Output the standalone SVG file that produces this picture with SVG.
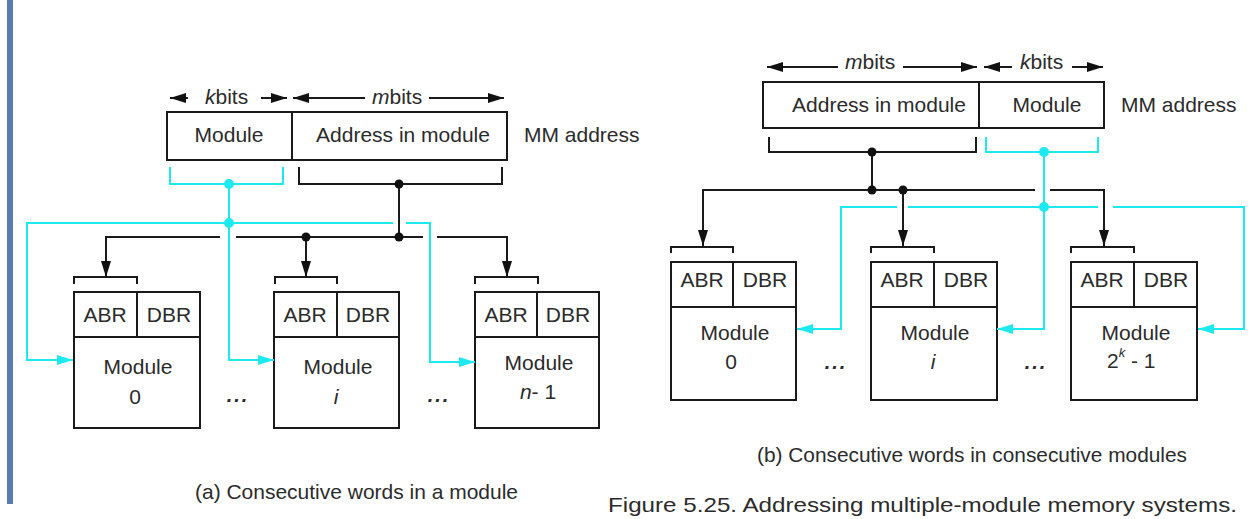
<svg xmlns="http://www.w3.org/2000/svg" width="1250" height="519" viewBox="0 0 1250 519">
  <style>
    text { font-family: "Liberation Sans", Arial, sans-serif; fill: #2b2b2b; }
    .lbl { font-size: 21px; text-anchor: middle; }
    .lbs { font-size: 21px; }
    .it { font-style: italic; }
    .ell { font-size: 20px; font-weight: bold; font-style: italic; text-anchor: middle; letter-spacing: 2px; }
    .box { fill: #fff; stroke: #1a1a1a; stroke-width: 2; }
    .blk { fill: none; stroke: #1a1a1a; stroke-width: 2; }
    .cyn { fill: none; stroke: #1fe9f0; stroke-width: 2; }
    .dotb { fill: #111; }
    .dotc { fill: #1fe9f0; }
  </style>
  <defs>
    <marker id="dimArrow" markerUnits="userSpaceOnUse" markerWidth="16" markerHeight="10" refX="16" refY="5" orient="auto">
      <path d="M0,0 L16,5 L0,10 z" fill="#111"/>
    </marker>
    <marker id="busArrow" markerUnits="userSpaceOnUse" markerWidth="16" markerHeight="10" refX="16" refY="5" orient="auto">
      <path d="M0,0 L16,5 L0,10 z" fill="#111"/>
    </marker>
    <marker id="selArrow" markerUnits="userSpaceOnUse" markerWidth="16" markerHeight="10" refX="16" refY="5" orient="auto">
      <path d="M0,0 L16,5 L0,10 z" fill="#1fe9f0"/>
    </marker>
  </defs>

  <rect width="1250" height="519" fill="#fff"/>
  <!-- page margin bar -->
  <rect x="7" y="0" width="6" height="504" fill="#5b7bb0"/>

  <!-- ===== (a) consecutive words in a module ===== -->
  <g id="a-address">
    <rect class="box" x="167" y="112" width="340" height="48"/>
    <line class="blk" x1="292" y1="112" x2="292" y2="160"/>
    <text class="lbl" x="229" y="142">Module</text>
    <text class="lbl" x="403" y="142">Address in module</text>
    <text class="lbs" x="524" y="142">MM address</text>
  </g>
  <g id="a-widths">
    <line class="blk" x1="188" y1="98" x2="170" y2="98" marker-end="url(#dimArrow)"/>
    <text class="lbs" x="205" y="104"><tspan class="it">k</tspan>bits</text>
    <line class="blk" x1="261" y1="98" x2="287" y2="98" marker-end="url(#dimArrow)"/>
    <line class="blk" x1="365" y1="98" x2="293" y2="98" marker-end="url(#dimArrow)"/>
    <text class="lbs" x="372" y="104"><tspan class="it">m</tspan>bits</text>
    <line class="blk" x1="429" y1="98" x2="504" y2="98" marker-end="url(#dimArrow)"/>
  </g>

  <g id="a-module-0">
    <rect class="box" x="74" y="292" width="126" height="136"/>
    <line class="blk" x1="74" y1="337" x2="200" y2="337"/>
    <line class="blk" x1="137" y1="292" x2="137" y2="337"/>
    <text class="lbl" x="105" y="322">ABR</text>
    <text class="lbl" x="169" y="322">DBR</text>
    <text class="lbl" x="138" y="374">Module</text>
    <text class="lbl" x="135" y="404">0</text>
    <path class="blk" d="M74,284 V277 H137 V284"/>
  </g>
  <g id="a-module-i">
    <rect class="box" x="274" y="292" width="125" height="136"/>
    <line class="blk" x1="274" y1="337" x2="399" y2="337"/>
    <line class="blk" x1="337" y1="292" x2="337" y2="337"/>
    <text class="lbl" x="305" y="322">ABR</text>
    <text class="lbl" x="368" y="322">DBR</text>
    <text class="lbl" x="338" y="374">Module</text>
    <text class="lbl it" x="336" y="404">i</text>
    <path class="blk" d="M275,284 V277 H337 V284"/>
  </g>
  <g id="a-module-n1">
    <rect class="box" x="475" y="292" width="124" height="136"/>
    <line class="blk" x1="475" y1="337" x2="599" y2="337"/>
    <line class="blk" x1="537" y1="292" x2="537" y2="337"/>
    <text class="lbl" x="506" y="322">ABR</text>
    <text class="lbl" x="568" y="322">DBR</text>
    <text class="lbl" x="539" y="370">Module</text>
    <text class="lbl" x="538" y="399"><tspan class="it">n</tspan>- 1</text>
    <path class="blk" d="M475,284 V277 H538 V284"/>
  </g>
  <text class="ell" x="238" y="402">...</text>
  <text class="ell" x="439" y="402">...</text>

  <g id="a-connectors">
    <!-- module-select lines -->
    <path class="cyn" d="M170,167 V184 H283 V167"/>
    <path class="cyn" d="M229,223 H27 V360 H73" marker-end="url(#selArrow)"/>
    <path class="cyn" d="M229,184 V360 H274" marker-end="url(#selArrow)"/>
    <path class="cyn" d="M229,223 H393"/>
    <path class="cyn" d="M406,223 H430 V362 H475" marker-end="url(#selArrow)"/>
    <circle class="dotc" cx="229" cy="184" r="5"/>
    <circle class="dotc" cx="229" cy="223" r="5"/>
    <!-- address-in-module bus -->
    <path class="blk" d="M299,167 V184 H502 V167"/>
    <path class="blk" d="M399,184 V237"/>
    <path class="blk" d="M220,237 H106 V277" marker-end="url(#busArrow)"/>
    <path class="blk" d="M236,237 H423"/>
    <path class="blk" d="M306,237 V277" marker-end="url(#busArrow)"/>
    <path class="blk" d="M437,237 H507 V277" marker-end="url(#busArrow)"/>
    <circle class="dotb" cx="399" cy="184" r="4.5"/>
    <circle class="dotb" cx="399" cy="237" r="4.5"/>
    <circle class="dotb" cx="306" cy="237" r="4.5"/>
  </g>

  <text class="lbs" x="195" y="499" font-size="20" textLength="323" lengthAdjust="spacingAndGlyphs">(a) Consecutive words in a module</text>

  <!-- ===== (b) consecutive words in consecutive modules ===== -->
  <g id="b-address">
    <rect class="box" x="763" y="82" width="341" height="46"/>
    <line class="blk" x1="979" y1="82" x2="979" y2="128"/>
    <text class="lbl" x="879" y="112">Address in module</text>
    <text class="lbl" x="1047" y="112">Module</text>
    <text class="lbs" x="1121" y="112">MM address</text>
  </g>
  <g id="b-widths">
    <line class="blk" x1="838" y1="67" x2="767" y2="67" marker-end="url(#dimArrow)"/>
    <text class="lbs" x="845" y="69"><tspan class="it">m</tspan>bits</text>
    <line class="blk" x1="903" y1="67" x2="977" y2="67" marker-end="url(#dimArrow)"/>
    <line class="blk" x1="1012" y1="67" x2="984" y2="67" marker-end="url(#dimArrow)"/>
    <text class="lbs" x="1020" y="69"><tspan class="it">k</tspan>bits</text>
    <line class="blk" x1="1072" y1="67" x2="1103" y2="67" marker-end="url(#dimArrow)"/>
  </g>

  <g id="b-module-0">
    <rect class="box" x="671" y="262" width="125" height="138"/>
    <line class="blk" x1="671" y1="307" x2="796" y2="307"/>
    <line class="blk" x1="733" y1="262" x2="733" y2="307"/>
    <text class="lbl" x="702" y="287">ABR</text>
    <text class="lbl" x="765" y="287">DBR</text>
    <text class="lbl" x="735" y="340">Module</text>
    <text class="lbl" x="731" y="369">0</text>
    <path class="blk" d="M671,253 V247 H733 V253"/>
  </g>
  <g id="b-module-i">
    <rect class="box" x="871" y="262" width="126" height="138"/>
    <line class="blk" x1="871" y1="307" x2="997" y2="307"/>
    <line class="blk" x1="934" y1="262" x2="934" y2="307"/>
    <text class="lbl" x="902" y="287">ABR</text>
    <text class="lbl" x="966" y="287">DBR</text>
    <text class="lbl" x="935" y="340">Module</text>
    <text class="lbl it" x="933" y="369">i</text>
    <path class="blk" d="M871,253 V247 H934 V253"/>
  </g>
  <g id="b-module-last">
    <rect class="box" x="1071" y="262" width="126" height="138"/>
    <line class="blk" x1="1071" y1="307" x2="1197" y2="307"/>
    <line class="blk" x1="1134" y1="262" x2="1134" y2="307"/>
    <text class="lbl" x="1102" y="287">ABR</text>
    <text class="lbl" x="1166" y="287">DBR</text>
    <text class="lbl" x="1136" y="340">Module</text>
    <text class="lbs" x="1107" y="368">2<tspan class="it" font-size="13" dy="-11">k</tspan><tspan dy="11"> - 1</tspan></text>
    <path class="blk" d="M1071,253 V247 H1134 V253"/>
  </g>
  <text class="ell" x="836" y="369">...</text>
  <text class="ell" x="1036" y="369">...</text>

  <g id="b-connectors">
    <!-- address-in-module bus -->
    <path class="blk" d="M769,137 V152 H976 V137"/>
    <path class="blk" d="M872,152 V190"/>
    <path class="blk" d="M1035,190 H703 V246" marker-end="url(#busArrow)"/>
    <path class="blk" d="M903,190 V246" marker-end="url(#busArrow)"/>
    <path class="blk" d="M1050,190 H1104 V246" marker-end="url(#busArrow)"/>
    <circle class="dotb" cx="872" cy="152" r="4.5"/>
    <circle class="dotb" cx="872" cy="190" r="4.5"/>
    <circle class="dotb" cx="903" cy="190" r="4.5"/>
    <!-- module-select lines -->
    <path class="cyn" d="M986,137 V152 H1098 V137"/>
    <path class="cyn" d="M1044,152 V329 H997" marker-end="url(#selArrow)"/>
    <path class="cyn" d="M1044,207 H908"/>
    <path class="cyn" d="M897,207 H841 V329 H797" marker-end="url(#selArrow)"/>
    <path class="cyn" d="M1044,207 H1098"/>
    <path class="cyn" d="M1113,207 H1244 V329 H1198" marker-end="url(#selArrow)"/>
    <circle class="dotc" cx="1044" cy="152" r="5"/>
    <circle class="dotc" cx="1044" cy="207" r="5"/>
  </g>

  <text class="lbs" x="757" y="462" font-size="20" textLength="430" lengthAdjust="spacingAndGlyphs">(b) Consecutive words in consecutive modules</text>

  <text class="lbs" x="608" y="512" font-size="28" fill="#333" textLength="629" lengthAdjust="spacingAndGlyphs">Figure 5.25. Addressing multiple-module memory systems.</text>
</svg>
